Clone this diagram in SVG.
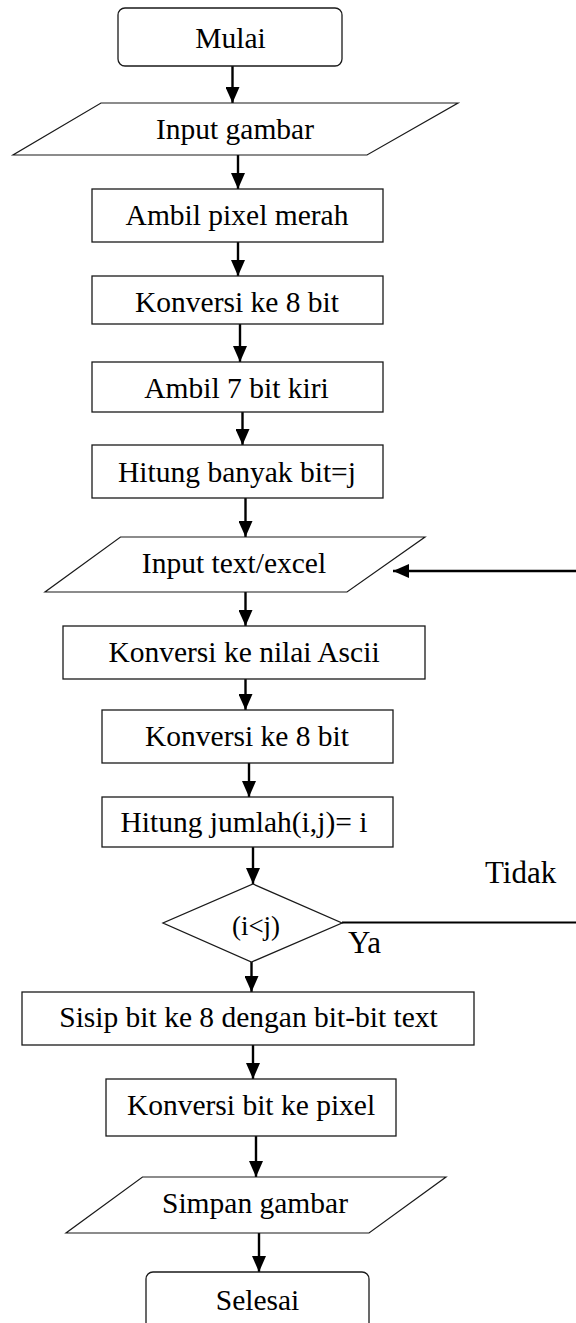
<svg xmlns="http://www.w3.org/2000/svg" width="576" height="1323" viewBox="0 0 576 1323">
  <style>
    .box { fill: #ffffff; stroke: #1a1a1a; stroke-width: 1.3; }
    .io { fill: #ffffff; stroke: #1a1a1a; stroke-width: 1.2; }
    .txt { font-family: "Liberation Serif", "Times New Roman", serif; font-size: 29.5px; fill: #000000; text-anchor: middle; }
    .lbl { font-family: "Liberation Serif", "Times New Roman", serif; font-size: 31px; fill: #000000; }
    .cond { font-family: "Liberation Serif", "Times New Roman", serif; font-size: 27px; fill: #000000; text-anchor: middle; }
    .flow { fill: none; stroke: #000000; stroke-width: 2.4; }
    .plain { fill: none; stroke: #000000; stroke-width: 1.8; }
  </style>
  <defs>
    <marker id="arrow" markerUnits="userSpaceOnUse" markerWidth="16" markerHeight="14" refX="16" refY="7" orient="auto">
      <path d="M0,0 L16,7 L0,14 Z" fill="#000000"/>
    </marker>
  </defs>
  <rect width="576" height="1323" fill="#ffffff"/>

  <!-- connectors -->
  <g id="connectors">
    <path class="flow" d="M232.5,66 V103" marker-end="url(#arrow)"/>
    <path class="flow" d="M238,155 V189" marker-end="url(#arrow)"/>
    <path class="flow" d="M238,242 V276" marker-end="url(#arrow)"/>
    <path class="flow" d="M240,324 V362" marker-end="url(#arrow)"/>
    <path class="flow" d="M242.5,412 V445" marker-end="url(#arrow)"/>
    <path class="flow" d="M245.5,498 V537" marker-end="url(#arrow)"/>
    <path class="flow" d="M245.5,592 V626" marker-end="url(#arrow)"/>
    <path class="flow" d="M245.5,677 V710" marker-end="url(#arrow)"/>
    <path class="flow" d="M249,763 V797" marker-end="url(#arrow)"/>
    <path class="flow" d="M253,847 V884" marker-end="url(#arrow)"/>
    <path class="flow" d="M251.5,962 V992" marker-end="url(#arrow)"/>
    <path class="flow" d="M253,1045 V1079" marker-end="url(#arrow)"/>
    <path class="flow" d="M256,1136 V1177" marker-end="url(#arrow)"/>
    <path class="flow" d="M259,1233 V1272" marker-end="url(#arrow)"/>
    <!-- "Tidak" branch: out to the right edge and back into the text input -->
    <path class="plain" d="M342,922.5 H590 V571 H400"/>
    <path class="flow" d="M576,571 H393" marker-end="url(#arrow)"/>
  </g>

  <g id="mulai">
    <rect class="box" x="118" y="8" width="224" height="58" rx="7"/>
    <text class="txt" x="230.5" y="48">Mulai</text>
  </g>

  <g id="input-gambar">
    <polygon class="io" points="101,103 458,103 367,155 13,155"/>
    <text class="txt" x="235" y="139">Input gambar</text>
  </g>

  <g id="ambil-pixel-merah">
    <rect class="box" x="92" y="189" width="291" height="53"/>
    <text class="txt" x="237" y="225">Ambil pixel merah</text>
  </g>

  <g id="konversi-8bit-1">
    <rect class="box" x="92" y="276" width="291" height="48"/>
    <text class="txt" x="237" y="312">Konversi ke 8 bit</text>
  </g>

  <g id="ambil-7bit">
    <rect class="box" x="92" y="362" width="291" height="50"/>
    <text class="txt" x="236.5" y="398">Ambil 7 bit kiri</text>
  </g>

  <g id="hitung-banyak-bit">
    <rect class="box" x="92" y="445" width="291" height="53"/>
    <text class="txt" x="237" y="482">Hitung banyak bit=j</text>
  </g>

  <g id="input-text">
    <polygon class="io" points="120.5,537 425,537 347,592 45,592"/>
    <text class="txt" x="234" y="573">Input text/excel</text>
  </g>

  <g id="konversi-ascii">
    <rect class="box" x="63" y="626" width="362" height="53"/>
    <text class="txt" x="244" y="662">Konversi ke nilai Ascii</text>
  </g>

  <g id="konversi-8bit-2">
    <rect class="box" x="102" y="710" width="291" height="53"/>
    <text class="txt" x="247" y="746">Konversi ke 8 bit</text>
  </g>

  <g id="hitung-jumlah">
    <rect class="box" x="102" y="797" width="291" height="50"/>
    <text class="txt" x="244" y="832">Hitung jumlah(i,j)= i</text>
  </g>

  <g id="cek-i-j">
    <polygon class="box" points="253,884 342,923 251.5,962 163,923"/>
    <text class="cond" x="256" y="935">(i&lt;j)</text>
  </g>

  <g id="labels">
    <text class="lbl" x="485" y="883">Tidak</text>
    <text class="lbl" x="348" y="953">Ya</text>
  </g>

  <g id="sisip-bit">
    <rect class="box" x="22" y="992" width="452" height="53"/>
    <text class="txt" x="248.5" y="1027">Sisip bit ke 8 dengan bit-bit text</text>
  </g>

  <g id="konversi-pixel">
    <rect class="box" x="106" y="1079" width="290" height="57"/>
    <text class="txt" x="251" y="1115">Konversi bit ke pixel</text>
  </g>

  <g id="simpan-gambar">
    <polygon class="io" points="142.5,1177 446,1177 369,1233 66,1233"/>
    <text class="txt" x="255" y="1213">Simpan gambar</text>
  </g>

  <g id="selesai">
    <rect class="box" x="146" y="1272" width="223" height="62" rx="7"/>
    <text class="txt" x="257.5" y="1310">Selesai</text>
  </g>
</svg>
